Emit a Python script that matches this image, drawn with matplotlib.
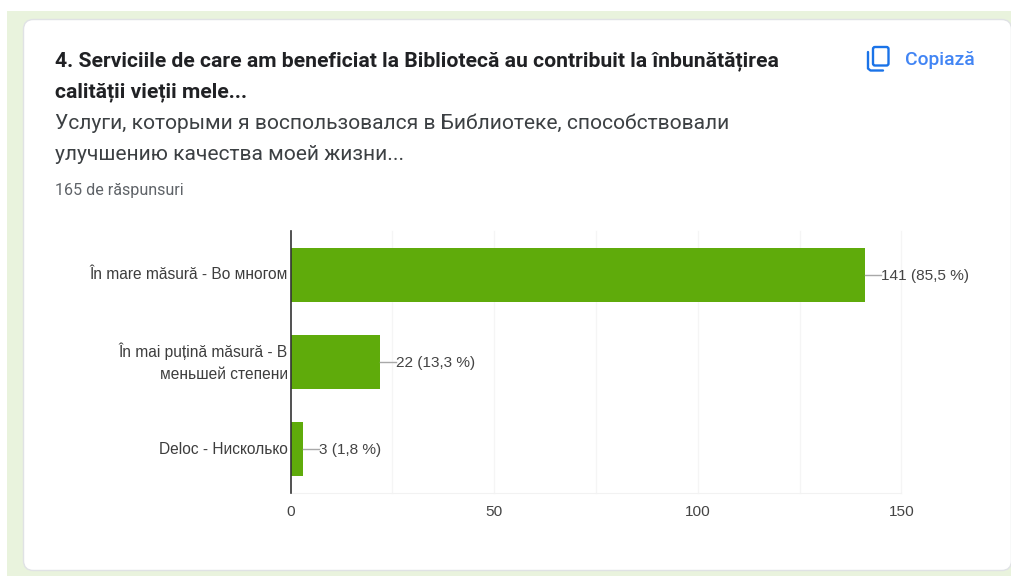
import matplotlib
matplotlib.use("Agg")
import matplotlib.pyplot as plt
from matplotlib.patches import FancyBboxPatch, Rectangle

categories = ["În mare măsură - Во многом",
              "În mai puțină măsură - В\nменьшей степени",
              "Deloc - Нисколько"]
counts = [141, 22, 3]
value_labels = ["141 (85,5 %)", "22 (13,3 %)", "3 (1,8 %)"]
x_ticks = [0, 50, 100, 150]
x_grid = [25, 50, 75, 100, 125, 150]

W, H = 1012, 576
fig = plt.figure(figsize=(W / 100, H / 100), dpi=100, facecolor="white")

# Page layer, addressed in pixels from the top-left corner
page = fig.add_axes([0, 0, 1, 1])
page.set_xlim(0, W)
page.set_ylim(H, 0)
page.axis("off")
page.add_patch(Rectangle((7, 11), W - 7, H - 11, fc="#e9f3dd", ec="none"))
page.add_patch(FancyBboxPatch((23.5, 19.5), 988, 551, boxstyle="round,pad=0,rounding_size=10",
                              fc="white", ec="#e0e2e5", lw=1))

page.text(55, 61, "4. Serviciile de care am beneficiat la Bibliotecă au contribuit la înbunătățirea",
          family="Roboto", weight="bold", fontsize=15.2, color="#202124", va="center")
page.text(55, 92, "calității vieții mele...",
          family="Roboto", weight="bold", fontsize=15.2, color="#202124", va="center")
page.text(55, 123, "Услуги, которыми я воспользовался в Библиотеке, способствовали",
          family="Roboto", fontsize=15.1, color="#3c4043", va="center")
page.text(55, 155, "улучшению качества моей жизни...",
          family="Roboto", fontsize=15.1, color="#3c4043", va="center")
page.text(55, 190, "165 de răspunsuri",
          family="Roboto", fontsize=11.6, color="#5f6368", va="center")

# Copy icon and its caption
blue = "#1a73e8"
page.add_patch(FancyBboxPatch((873, 47), 15.5, 18.5, boxstyle="round,pad=0,rounding_size=2",
                              fc="white", ec=blue, lw=1.7))
page.plot([868, 868, 870.5, 883], [52, 68.5, 70.5, 70.5], color=blue, lw=1.7,
          solid_capstyle="round", solid_joinstyle="round")
page.text(905, 60, "Copiază", family="Roboto", weight="medium", fontsize=13.9,
          color="#4285f4", va="center")

# Horizontal bar chart
x0, x150, top, bottom = 290.5, 901.5, 231, 493
ax = fig.add_axes([x0 / W, 1 - bottom / H, (x150 - x0) / W, (bottom - top) / H])
ax.patch.set_alpha(0)
positions = list(range(len(categories)))
ax.barh(positions, counts, height=0.62, color="#5fab0b", zorder=2)
ax.set_xlim(0, 150)
ax.set_ylim(len(categories) - 0.5, -0.5)
for spine in ("top", "right"):
    ax.spines[spine].set_visible(False)
ax.spines["bottom"].set_color("#f2f2f2")
ax.spines["left"].set_color("#333333")
ax.spines["left"].set_linewidth(1.2)
ax.spines["left"].set_zorder(3)
for g in x_grid:
    ax.axvline(g, color="#f5f5f5", lw=1, zorder=1, clip_on=False)
ax.set_xticks(x_ticks)
ax.tick_params(axis="x", length=0, pad=9, labelsize=11.1, labelcolor="#444444")
ax.set_yticks(positions)
ax.set_yticklabels(categories, fontsize=11.2, color="#3d3d3d", linespacing=1.6, va="center")
ax.tick_params(axis="y", length=0, pad=2)
for label in ax.get_xticklabels() + ax.get_yticklabels():
    label.set_family("Liberation Sans")

# Leader lines and value annotations
for pos, count, text in zip(positions, counts, value_labels):
    ax.plot([count, count + 3.9], [pos, pos], color="#a8a8a8", lw=1, zorder=2, clip_on=False)
    ax.annotate(text, (count + 3.9, pos), xytext=(0, -0.7), textcoords="offset points",
                family="Liberation Sans", fontsize=11.1, color="#444444",
                va="center", ha="left", annotation_clip=False)

fig.savefig("out.png", dpi=100)
